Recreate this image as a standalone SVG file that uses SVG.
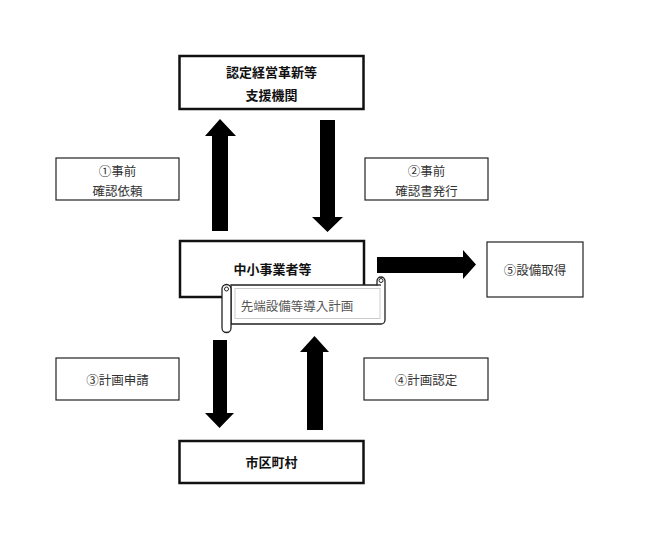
<svg xmlns="http://www.w3.org/2000/svg" width="650" height="536" viewBox="0 0 650 536">
<style>
.main{fill:#fff;stroke:#111;stroke-width:2.5}
.lab{fill:#fff;stroke:#222;stroke-width:1.2}
.tb{font-family:"Noto Sans CJK JP","Noto Sans",sans-serif;font-size:13px;font-weight:bold;fill:#111;text-anchor:middle}
.tl{font-family:"Noto Sans CJK JP","Noto Sans",sans-serif;font-size:12.5px;fill:#333;text-anchor:middle}
.arr{fill:#000}
</style>
<rect width="650" height="536" fill="#fff"/>
<g id="connectors">
<polygon class="arr" points="212,231 228,231 228,136 236,136 220,119 205,136 212,136"/>
<polygon class="arr" points="320,120 335,120 335,217 343,217 327.5,232 312,217 320,217"/>
<polygon class="arr" points="213,340 227,340 227,413 234,413 219.5,428 205,413 213,413"/>
<polygon class="arr" points="307,430 323,430 323,352 329,352 314.5,336 300,352 307,352"/>
<polygon class="arr" points="377,257 463,257 463,250 476,264.5 463,279 463,273 377,273"/>
</g>
<g id="shien">
<rect class="main" x="179.5" y="56" width="184" height="53"/>
<text class="tb" x="271.5" y="77">認定経営革新等</text>
<text class="tb" x="271.5" y="100">支援機関</text>
</g>
<g id="chusho">
<rect class="main" x="180" y="241" width="184" height="56"/>
<text class="tb" x="272.5" y="274">中小事業者等</text>
</g>
<g id="keikaku">
<path d="M231 285 L377 285 L377 281 A4 4 0 0 1 385 281 L385 320 A4 4 0 0 1 381 324 L231 324 Z" fill="#fff" stroke="#222" stroke-width="1.3"/>
<path d="M377 285 L381 285" fill="none" stroke="#222" stroke-width="1.3"/>
<circle cx="381" cy="280.5" r="2" fill="#fff" stroke="#222" stroke-width="1"/>
<path d="M231 289 L231 328 A4.5 4.5 0 0 1 222 328 L222 289 A4.5 4.5 0 0 1 231 289 Z" fill="#fff" stroke="#222" stroke-width="1.3"/>
<circle cx="226.5" cy="289" r="2" fill="#fff" stroke="#222" stroke-width="1"/>
<rect x="235" y="288.5" width="145" height="30" fill="#fff" stroke="#ccc" stroke-width="1"/>
<text class="tl" x="297" y="311" style="fill:#555">先端設備等導入計画</text>
</g>
<g id="shichoson">
<rect class="main" x="179.5" y="441" width="184" height="42"/>
<text class="tb" x="271.5" y="467">市区町村</text>
</g>
<g id="setsubi">
<rect class="lab" x="487" y="242" width="96" height="55"/>
<text class="tl" x="535" y="275">⑤設備取得</text>
</g>
<g id="label1">
<rect class="lab" x="56" y="158" width="123" height="42"/>
<text class="tl" x="117.5" y="176">①事前</text>
<text class="tl" x="117.5" y="196">確認依頼</text>
</g>
<g id="label2">
<rect class="lab" x="365" y="158" width="123" height="42"/>
<text class="tl" x="426.5" y="176">②事前</text>
<text class="tl" x="426.5" y="196">確認書発行</text>
</g>
<g id="label3">
<rect class="lab" x="56" y="358" width="123" height="42"/>
<text class="tl" x="117.5" y="385">③計画申請</text>
</g>
<g id="label4">
<rect class="lab" x="364" y="358" width="124" height="42"/>
<text class="tl" x="426" y="385">④計画認定</text>
</g>
</svg>
